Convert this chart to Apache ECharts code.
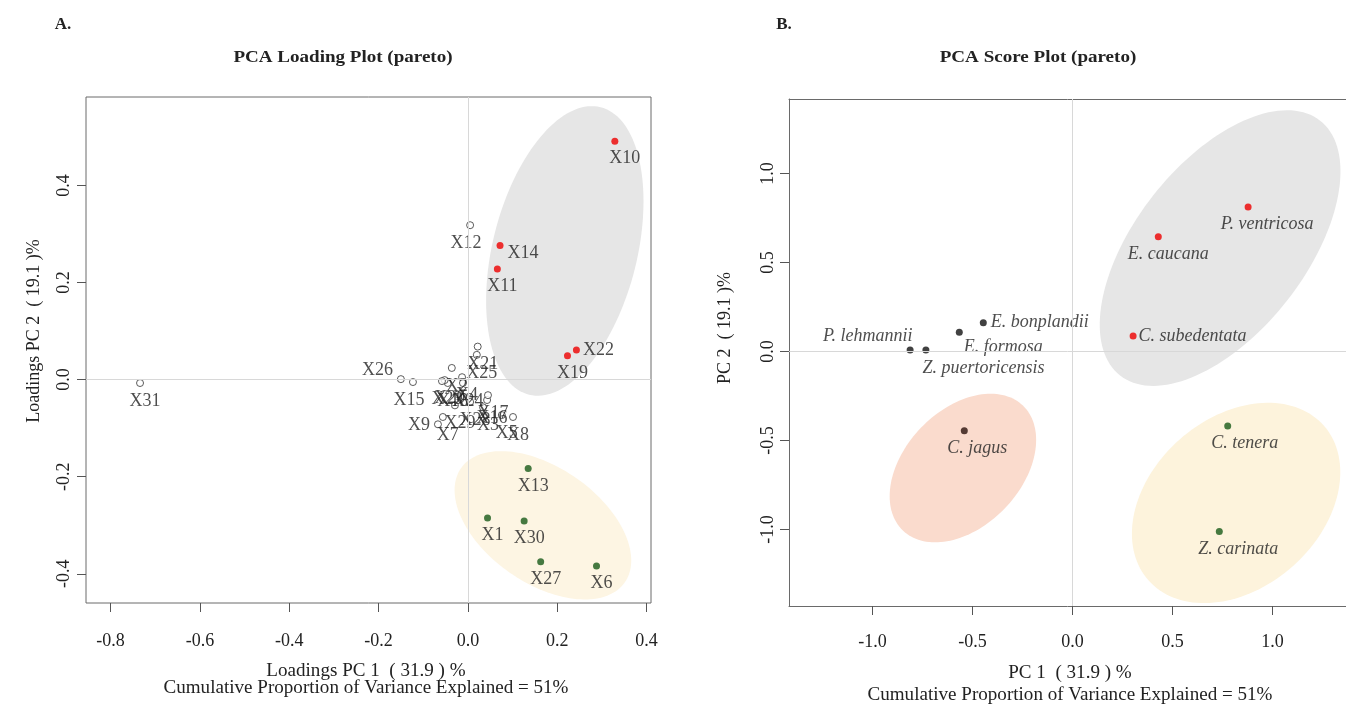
<!DOCTYPE html>
<html>
<head>
<meta charset="utf-8">
<script src="https://cdn.jsdelivr.net/npm/echarts@6/dist/echarts.min.js"></script>
<style>
  html, body { margin: 0; padding: 0; background: #fff; }
  #chart { width: 1346px; height: 709px; }
</style>
</head>
<body>
<div id="chart"></div>
<script>
// loadings (panel A)
const loadNames = ['X1','X2','X3','X4','X5','X6','X7','X8','X9','X10','X11','X12','X13','X14','X15','X16',
  'X17','X18','X19','X20','X21','X22','X23','X24','X25','X26','X27','X28','X29','X30','X31'];
const loadPC1 = [0.044,-0.036,0.034,-0.013,0.076,0.288,-0.056,0.101,-0.067,0.329,0.066,0.005,0.135,0.072,-0.123,0.043,
  0.045,-0.045,0.223,-0.052,0.022,0.243,-0.058,-0.011,0.020,-0.150,0.163,0.005,-0.029,0.126,-0.734];
const loadPC2 = [-0.285,0.024,-0.057,0.005,-0.073,-0.384,-0.077,-0.077,-0.092,0.491,0.228,0.318,-0.183,0.276,-0.005,-0.042,
  -0.032,-0.007,0.049,-0.001,0.068,0.061,-0.003,-0.007,0.051,0.001,-0.375,-0.046,-0.053,-0.291,-0.007];
const loadGroup = ['low','none','none','none','none','low','none','none','none','high','high','none','low','high','none','none',
  'none','none','high','none','none','high','none','none','none','none','low','none','none','low','none'];

// scores (panel B)
const scoreNames = ['P. ventricosa','E. caucana','C. subedentata','E. bonplandii','E. formosa',
  'P. lehmannii','Z. puertoricensis','C. jagus','C. tenera','Z. carinata'];
const scorePC1 = [0.878,0.429,0.303,-0.446,-0.566,-0.812,-0.733,-0.541,0.776,0.734];
const scorePC2 = [0.812,0.645,0.087,0.162,0.108,0.008,0.008,-0.445,-0.419,-1.012];
const scoreGroup = ['high','high','high','mid','mid','mid','mid','jag','low','low'];

// group ellipses: centre, first semi-axis, second semi-axis (data units)
const loadEllipseHigh = [0.217, 0.265, 0.080, 0.296, 0.157, -0.036];
const loadEllipseLow = [0.168, -0.300, 0.183, -0.118, -0.075, -0.097];
const scoreEllipseHigh = [0.738, 0.581, 0.500, 0.716, 0.335, -0.295];
const scoreEllipseJag = [-0.548, -0.655, 0.300, 0.351, 0.210, -0.226];
const scoreEllipseLow = [0.818, -0.851, 0.438, 0.435, 0.282, -0.357];

const loadTicksX = [-0.8, -0.6, -0.4, -0.2, 0.0, 0.2, 0.4];
const loadTicksY = [-0.4, -0.2, 0.0, 0.2, 0.4];
const scoreTicks = [-1.0, -0.5, 0.0, 0.5, 1.0];

const FONT = '"Liberation Serif", "Times New Roman", serif';
const INK = '#222';
const BOX = '#6a6a6a';

// label placement tweaks
const loadLabelPlace = {
  X14: { position: 'right', distance: 4, offset: [0, 8] },
  X22: { position: 'right', distance: 3, offset: [0, 0] },
  X26: { position: 'left', distance: 4, offset: [0, -9] },
  X9: { position: 'left', distance: 4, offset: [0, 1] },
  X12: { offset: [-4, 0] },
  X15: { offset: [-4, 0] },
  X10: { offset: [10, 0] }
};
const scoreLabelPlace = {
  'P. ventricosa': { offset: [19, 0] },
  'E. caucana': { offset: [10, 0] },
  'C. subedentata': { position: 'right', distance: 2, offset: [0, 0] },
  'E. bonplandii': { position: 'right', distance: 4, offset: [0, 0] },
  'E. formosa': { position: 'right', distance: 1, offset: [0, 15] },
  'P. lehmannii': { position: 'left', distance: 2, offset: [8, -14] },
  'Z. puertoricensis': { position: 'right', distance: 3, offset: [-10, 18] },
  'C. jagus': { offset: [13, 0] },
  'C. tenera': { offset: [17, 0] },
  'Z. carinata': { offset: [19, 0] }
};

function points(names, xs, ys, groups, g, place) {
  const out = [];
  names.forEach((n, i) => {
    if (groups[i] !== g) return;
    out.push({ name: n, value: [xs[i], ys[i]], label: place[n] || {} });
  });
  return out;
}

function ellipse(p, color, idx) {
  return {
    type: 'custom', xAxisIndex: idx, yAxisIndex: idx, silent: true, z: 1,
    data: [[p[0], p[1]]],
    renderItem: (params, api) => {
      const pts = [];
      for (let k = 0; k < 144; k++) {
        const t = k / 144 * Math.PI * 2;
        pts.push(api.coord([
          p[0] + Math.cos(t) * p[2] + Math.sin(t) * p[4],
          p[1] + Math.cos(t) * p[3] + Math.sin(t) * p[5]
        ]));
      }
      return { type: 'polygon', shape: { points: pts }, style: { fill: color } };
    }
  };
}

const zeroLines = {
  silent: true, symbol: ['none', 'none'], label: { show: false },
  lineStyle: { color: '#d8d8d8', type: 'solid', width: 1 },
  data: [{ xAxis: 0 }, { yAxis: 0 }]
};

function axisX(idx, min, max, ticks, margin, line) {
  return {
    type: 'value', gridIndex: idx, min: min, max: max,
    axisLine: { show: !!line, onZero: false, lineStyle: { color: BOX } },
    splitLine: { show: false },
    axisTick: { show: true, length: 9, customValues: ticks, lineStyle: { color: '#555' } },
    axisLabel: { customValues: ticks, formatter: v => v.toFixed(1), margin: margin,
      fontFamily: FONT, fontSize: 18, color: INK }
  };
}
function axisY(idx, min, max, ticks, margin, line) {
  return {
    type: 'value', gridIndex: idx, min: min, max: max,
    axisLine: { show: !!line, onZero: false, lineStyle: { color: BOX } },
    splitLine: { show: false },
    axisTick: { show: true, length: 9, customValues: ticks, lineStyle: { color: '#555' } },
    axisLabel: { customValues: ticks, formatter: v => v.toFixed(1), rotate: 90, margin: margin,
      fontFamily: FONT, fontSize: 18, color: INK }
  };
}

const loadLabel = { show: true, formatter: '{b}', position: 'bottom', distance: 5, offset: [5, 0],
  fontFamily: FONT, fontSize: 18, color: INK };
const scoreLabel = { show: true, formatter: '{b}', position: 'bottom', distance: 5, offset: [12, 0],
  fontFamily: FONT, fontStyle: 'italic', fontSize: 18, color: INK };

function text(str, x, y, opts) {
  opts = opts || {};
  return {
    type: 'text', x: x, y: y, silent: true,
    rotation: opts.rotation || 0, scaleX: opts.scaleX || 1,
    style: Object.assign({ text: str, x: 0, y: 0, fill: INK, textAlign: 'center', textVerticalAlign: 'middle',
      font: '18px ' + FONT }, opts.style)
  };
}

const chart = echarts.init(document.getElementById('chart'));
chart.setOption({
  animation: false,
  backgroundColor: '#fff',
  grid: [
    { left: 86, top: 97, width: 565, height: 506, show: true, borderColor: BOX, borderWidth: 1 },
    { left: 789, top: 99, width: 557, height: 507 }
  ],
  xAxis: [
    axisX(0, -0.855, 0.41, loadTicksX, 29),
    axisX(1, -1.4175, 1.3675, scoreTicks, 27, true),
    // top edge of the right-hand box
    { type: 'value', gridIndex: 1, position: 'top', min: -1.4175, max: 1.3675,
      axisLine: { show: true, onZero: false, lineStyle: { color: BOX } },
      axisTick: { show: false }, axisLabel: { show: false }, splitLine: { show: false } }
  ],
  yAxis: [
    axisY(0, -0.46, 0.582, loadTicksY, 13),
    axisY(1, -1.43, 1.4185, scoreTicks, 12, true)
  ],
  graphic: [
    text('A.', 63, 25, { style: { font: 'bold 17px ' + FONT } }),
    text('PCA Loading Plot (pareto)', 343, 58, { scaleX: 1.12, style: { font: 'bold 17px ' + FONT } }),
    text('Loadings PC 1  ( 31.9 ) %', 366, 671, { scaleX: 1.06 }),
    text('Cumulative Proportion of Variance Explained = 51%', 366, 688, { scaleX: 1.06 }),
    text('Loadings PC 2  ( 19.1 )%', 34, 331, { rotation: Math.PI / 2 }),
    text('B.', 784, 25, { style: { font: 'bold 17px ' + FONT } }),
    text('PCA Score Plot (pareto)', 1038, 58, { scaleX: 1.12, style: { font: 'bold 17px ' + FONT } }),
    text('PC 1  ( 31.9 ) %', 1070, 673, { scaleX: 1.06 }),
    text('Cumulative Proportion of Variance Explained = 51%', 1070, 695, { scaleX: 1.06 }),
    text('PC 2  ( 19.1 )%', 725, 328, { rotation: Math.PI / 2 })
  ],
  series: [
    ellipse(loadEllipseHigh, '#e6e6e6', 0),
    ellipse(loadEllipseLow, '#fdf5e3', 0),
    ellipse(scoreEllipseHigh, '#e6e6e6', 1),
    ellipse(scoreEllipseJag, '#fadbcd', 1),
    ellipse(scoreEllipseLow, '#fdf3dc', 1),
    {
      type: 'scatter', xAxisIndex: 0, yAxisIndex: 0, z: 3, symbolSize: 7,
      itemStyle: { color: '#fff', borderColor: '#333', borderWidth: 1 },
      label: loadLabel, markLine: zeroLines,
      data: points(loadNames, loadPC1, loadPC2, loadGroup, 'none', loadLabelPlace)
    },
    {
      type: 'scatter', xAxisIndex: 0, yAxisIndex: 0, z: 4, symbolSize: 7,
      itemStyle: { color: '#ee0000' }, label: loadLabel,
      data: points(loadNames, loadPC1, loadPC2, loadGroup, 'high', loadLabelPlace)
    },
    {
      type: 'scatter', xAxisIndex: 0, yAxisIndex: 0, z: 4, symbolSize: 7,
      itemStyle: { color: '#185a18' }, label: loadLabel,
      data: points(loadNames, loadPC1, loadPC2, loadGroup, 'low', loadLabelPlace)
    },
    {
      type: 'scatter', xAxisIndex: 1, yAxisIndex: 1, z: 4, symbolSize: 7,
      itemStyle: { color: '#111' }, label: scoreLabel, markLine: zeroLines,
      data: points(scoreNames, scorePC1, scorePC2, scoreGroup, 'mid', scoreLabelPlace)
    },
    {
      type: 'scatter', xAxisIndex: 1, yAxisIndex: 1, z: 4, symbolSize: 7,
      itemStyle: { color: '#ee0000' }, label: scoreLabel,
      data: points(scoreNames, scorePC1, scorePC2, scoreGroup, 'high', scoreLabelPlace)
    },
    {
      type: 'scatter', xAxisIndex: 1, yAxisIndex: 1, z: 4, symbolSize: 7,
      itemStyle: { color: '#2a110c' }, label: scoreLabel,
      data: points(scoreNames, scorePC1, scorePC2, scoreGroup, 'jag', scoreLabelPlace)
    },
    {
      type: 'scatter', xAxisIndex: 1, yAxisIndex: 1, z: 4, symbolSize: 7,
      itemStyle: { color: '#185a18' }, label: scoreLabel,
      data: points(scoreNames, scorePC1, scorePC2, scoreGroup, 'low', scoreLabelPlace)
    }
  ]
});
</script>
</body>
</html>
